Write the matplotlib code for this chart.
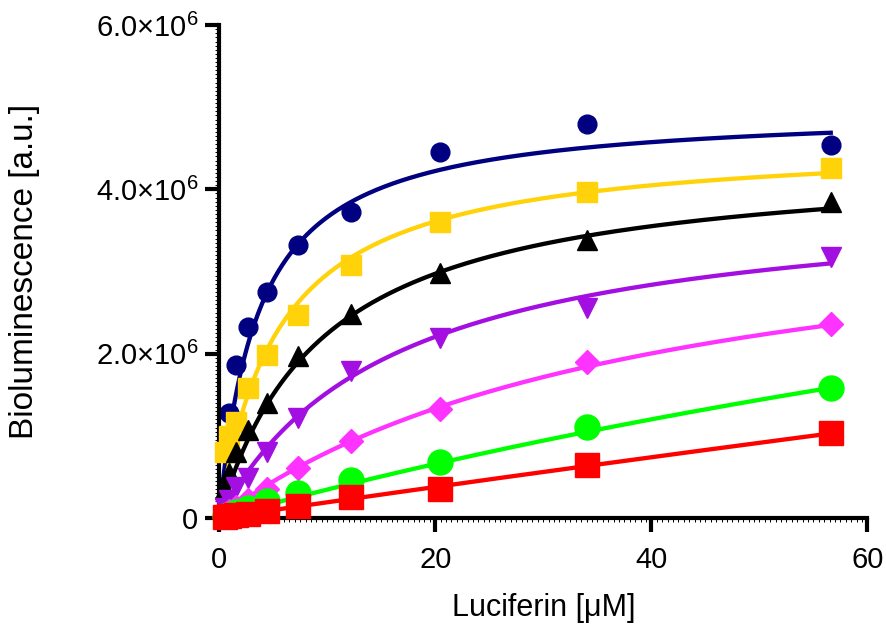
import numpy as np
import matplotlib.pyplot as plt
from matplotlib.ticker import MultipleLocator, FixedLocator

# luciferin concentrations (uM)
conc = [0.57, 0.95, 1.58, 2.64, 4.40, 7.33, 12.2, 20.4, 34.0, 56.6]

# bioluminescence, units of 1e6 a.u.
navy_pts = [0.85, 1.28, 1.86, 2.32, 2.75, 3.32, 3.72, 4.46, 4.79, 4.54]
gold_pts = [0.80, 1.00, 1.17, 1.58, 1.98, 2.47, 3.08, 3.60, 3.97, 4.26]
black_pts = [0.35, 0.55, 0.80, 1.07, 1.40, 1.97, 2.48, 2.98, 3.38, 3.85]
purple_pts = [0.12, 0.22, 0.38, 0.49, 0.80, 1.22, 1.79, 2.19, 2.56, 3.18]
magenta_pts = [0.05, 0.08, 0.13, 0.22, 0.35, 0.61, 0.94, 1.33, 1.90, 2.36]
green_pts = [0.02, 0.04, 0.07, 0.12, 0.20, 0.30, 0.46, 0.68, 1.11, 1.58]
red_pts = [0.01, 0.02, 0.03, 0.05, 0.09, 0.15, 0.25, 0.35, 0.645, 1.03]

# Michaelis-Menten fit parameters
vmax = [4.99, 4.61, 4.41, 3.98, 4.03, 6.9, 19.2]
km = [3.63, 5.54, 9.67, 16.1, 40.5, 190.0, 1000.0]

series = [navy_pts, gold_pts, black_pts, purple_pts, magenta_pts, green_pts, red_pts]
colors = ['#000080', '#FFD20A', '#000000', '#A30FE0', '#FF33FF', '#00FF00', '#FF0000']
markers = ['o', 's', '^', 'v', 'D', 'o', 's']
msizes = [13.5, 14, 14, 14, 12, 18, 17]

plt.rcParams['font.family'] = ['Liberation Sans', 'DejaVu Sans']
plt.rcParams['mathtext.fontset'] = 'custom'
plt.rcParams['mathtext.rm'] = 'Liberation Sans'

fig = plt.figure(figsize=(8.87, 6.27), dpi=100)
ax = fig.add_axes([0.247, 0.174, 0.731, 0.786])

xfit = np.linspace(0, max(conc), 300)
for i in range(len(series)):
    yfit = vmax[i] * xfit / (km[i] + xfit)
    ax.plot(xfit, np.array(yfit) * 1e6, '-', color=colors[i], lw=3.1, zorder=2 + i)
    ax.plot(conc, np.array(series[i]) * 1e6, linestyle='none', marker=markers[i],
            ms=msizes[i], color=colors[i], mec=colors[i], zorder=2 + i, clip_on=False)

ax.set_xlim(0, 60)
ax.set_ylim(0, 6e6)
ax.spines['top'].set_visible(False)
ax.spines['right'].set_visible(False)
ax.spines['left'].set_linewidth(3)
ax.spines['bottom'].set_linewidth(3)

ax.xaxis.set_major_locator(MultipleLocator(20))
ax.xaxis.set_minor_locator(MultipleLocator(0.5))
ax.yaxis.set_major_locator(FixedLocator([0, 2e6, 4e6, 6e6]))
ax.yaxis.set_minor_locator(MultipleLocator(5e4))
ax.set_yticklabels(['0', r'2.0$\times$10$^6$', r'4.0$\times$10$^6$', r'6.0$\times$10$^6$'])

ax.tick_params(which='major', length=10, width=3, direction='out')
ax.tick_params(which='minor', length=3, width=0.7, direction='out')
ax.tick_params(axis='y', labelsize=21, pad=5)
ax.tick_params(axis='x', labelsize=21, pad=10)

ax.set_xlabel('Luciferin [μM]', fontsize=22, labelpad=14)
ax.set_ylabel('Bioluminescence [a.u.]', fontsize=24, labelpad=40)

fig.savefig('out.png', dpi=100)
